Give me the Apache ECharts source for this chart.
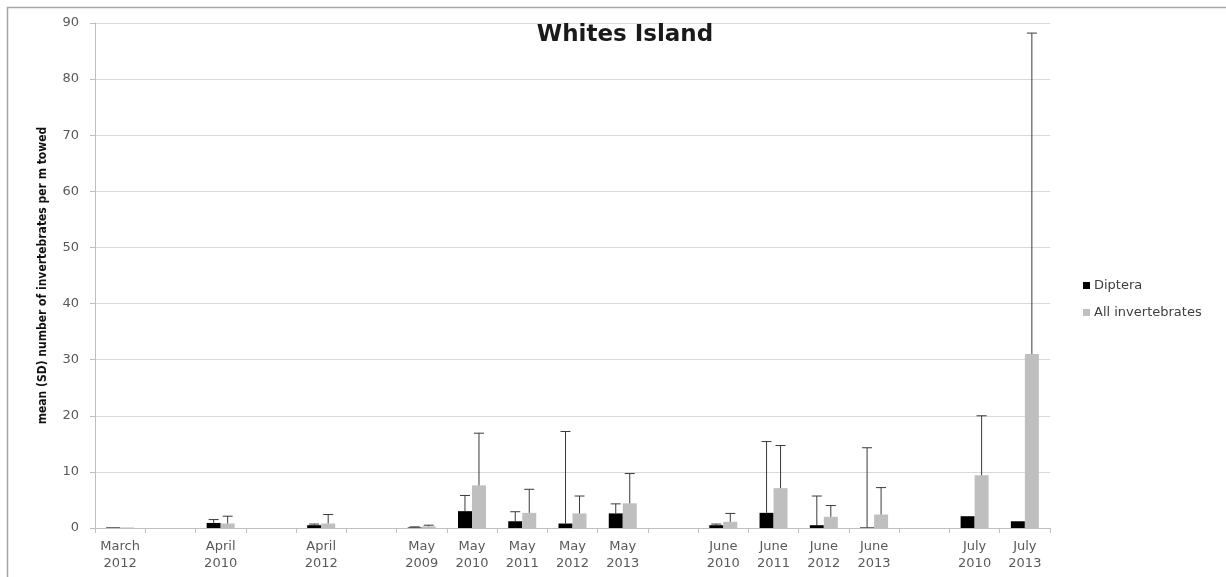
<!DOCTYPE html>
<html>
<head>
<meta charset="utf-8">
<script src="https://cdn.jsdelivr.net/npm/echarts@6/dist/echarts.min.js"></script>
<style>
  html, body { margin: 0; padding: 0; background: #fff; }
  #chart { width: 1226px; height: 577px; }
</style>
</head>
<body>
<div id="chart"></div>
<script>
// Sampling occasions; empty strings leave spacing between months
const categories = [
  'March\n2012', '', 'April\n2010', '', 'April\n2012', '',
  'May\n2009', 'May\n2010', 'May\n2011', 'May\n2012', 'May\n2013', '',
  'June\n2010', 'June\n2011', 'June\n2012', 'June\n2013', '',
  'July\n2010', 'July\n2013'
];

// Mean number per m towed
const dipteraMean = [0.1, null, 0.9, null, 0.5, null, 0.1, 3.0, 1.2, 0.8, 2.6, null, 0.5, 2.7, 0.5, 0.1, null, 2.1, 1.2];
const dipteraSD   = [0.0, null, 0.6, null, 0.2, null, 0.1, 2.8, 1.7, 16.4, 1.7, null, 0.2, 12.7, 5.2, 14.2, null, 0.0, 0.0];
const allMean     = [0.1, null, 0.8, null, 0.8, null, 0.3, 7.6, 2.7, 2.6, 4.4, null, 1.1, 7.1, 2.0, 2.4, null, 9.4, 31.0];
const allSD       = [0.0, null, 1.3, null, 1.6, null, 0.2, 9.3, 4.2, 3.1, 5.3, null, 1.5, 7.6, 2.0, 4.8, null, 10.6, 57.2];

const yTicks = { min: 0, max: 90, interval: 10 };
const BAR_W = 14;
const LABEL_FONT = 'DejaVu Sans, sans-serif';

function errorData(mean, sd) {
  return mean.map((m, i) => (m == null ? null : [i, m, m + (sd[i] || 0)]));
}

function errorSeries(name, mean, sd, offset) {
  return {
    type: 'custom',
    name: name,
    silent: true,
    z: 5,
    data: errorData(mean, sd).filter(d => d && d[2] > d[1]),
    renderItem: function (params, api) {
      const lo = api.coord([api.value(0), api.value(1)]);
      const hi = api.coord([api.value(0), api.value(2)]);
      const x = lo[0] + offset;
      const cap = 5;
      const style = { stroke: '#3a3a3a', lineWidth: 1 };
      return {
        type: 'group',
        children: [
          { type: 'line', shape: { x1: x, y1: lo[1], x2: x, y2: hi[1] }, style: style },
          { type: 'line', shape: { x1: x - cap, y1: hi[1], x2: x + cap, y2: hi[1] }, style: style }
        ]
      };
    }
  };
}

const chart = echarts.init(document.getElementById('chart'));
chart.setOption({
  animation: false,
  backgroundColor: '#fff',
  title: {
    text: 'Whites Island',
    left: 620,
    top: 19,
    textAlign: 'center',
    textStyle: { fontFamily: LABEL_FONT, fontWeight: 'bold', fontSize: 23, color: '#1a1a1a' }
  },
  legend: {
    orient: 'vertical',
    left: 1078,
    top: 274,
    itemWidth: 7,
    itemHeight: 7,
    itemGap: 14,
    icon: 'rect',
    data: ['Diptera', 'All invertebrates'],
    textStyle: { fontFamily: LABEL_FONT, fontSize: 13, color: '#404040', padding: [0, 0, 0, -1] }
  },
  grid: { left: 95, right: 176, top: 23, bottom: 49 },
  xAxis: {
    type: 'category',
    data: categories,
    axisLine: { lineStyle: { color: '#bfbfbf' } },
    axisTick: { show: true, interval: 0, length: 5, lineStyle: { color: '#bfbfbf' } },
    axisLabel: {
      interval: 0,
      margin: 10,
      lineHeight: 17,
      fontFamily: LABEL_FONT,
      fontSize: 13,
      color: '#595959'
    }
  },
  yAxis: {
    type: 'value',
    min: yTicks.min,
    max: yTicks.max,
    interval: yTicks.interval,
    name: 'mean (SD) number of invertebrates per m towed',
    nameLocation: 'middle',
    nameGap: 46,
    nameTextStyle: {
      fontFamily: 'Liberation Sans Narrow, DejaVu Sans Condensed, sans-serif',
      fontWeight: 'bold',
      fontSize: 12,
      color: '#111'
    },
    axisLine: { show: true, lineStyle: { color: '#bfbfbf' } },
    axisTick: { show: true, length: 5, lineStyle: { color: '#bfbfbf' } },
    splitLine: { lineStyle: { color: '#d9d9d9' } },
    axisLabel: { fontFamily: LABEL_FONT, fontSize: 13, color: '#595959', margin: 16 }
  },
  series: [
    {
      name: 'Diptera',
      type: 'bar',
      data: dipteraMean,
      barWidth: BAR_W,
      barGap: '0%',
      itemStyle: { color: '#000000' }
    },
    {
      name: 'All invertebrates',
      type: 'bar',
      data: allMean,
      barWidth: BAR_W,
      barGap: '0%',
      itemStyle: { color: '#bfbfbf' }
    },
    errorSeries('Diptera SD', dipteraMean, dipteraSD, -BAR_W / 2),
    errorSeries('All invertebrates SD', allMean, allSD, BAR_W / 2)
  ],
  graphic: [
    {
      type: 'rect',
      shape: { x: 7.5, y: 7.5, width: 1240, height: 600 },
      style: { fill: 'none', stroke: '#a6a6a6', lineWidth: 1.5 },
      silent: true
    }
  ]
});
</script>
</body>
</html>
